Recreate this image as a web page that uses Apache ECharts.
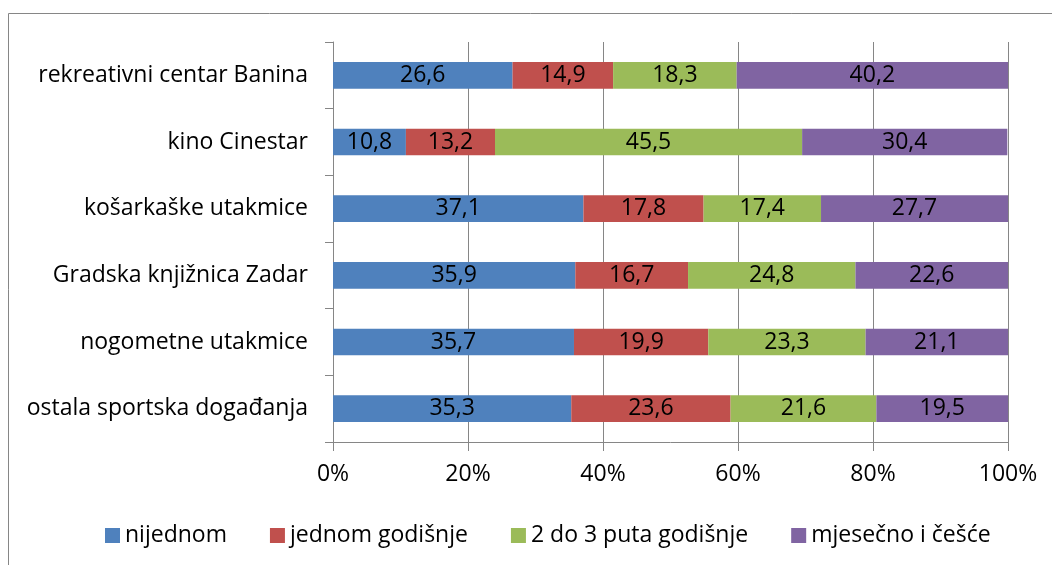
<!DOCTYPE html>
<html>
<head>
<meta charset="utf-8">
<script src="https://cdn.jsdelivr.net/npm/echarts@6/dist/echarts.min.js"></script>
<style>html,body{margin:0;padding:0;background:#fff;}#c{width:1052px;height:565px;}</style>
</head>
<body>
<div id="c"></div>
<script>
const categories = ['rekreativni centar Banina', 'kino Cinestar', 'košarkaške utakmice', 'Gradska knjižnica Zadar', 'nogometne utakmice', 'ostala sportska događanja'];
const seriesNames = ['nijednom', 'jednom godišnje', '2 do 3 puta godišnje', 'mjesečno i češće'];
const nijednom = [26.6, 10.8, 37.1, 35.9, 35.7, 35.3];
const jednomGodisnje = [14.9, 13.2, 17.8, 16.7, 19.9, 23.6];
const dvaDoTri = [18.3, 45.5, 17.4, 24.8, 23.3, 21.6];
const mjesecno = [40.2, 30.4, 27.7, 22.6, 21.1, 19.5];
const xTicks = [0, 20, 40, 60, 80, 100];

const colors = ['#4F81BD', '#C0504D', '#9BBB59', '#8064A2'];
const FONT = 'Open Sans';
const FS = 23;
const gridColor = '#868686';

const chart = echarts.init(document.getElementById('c'));
const dataSets = [nijednom, jednomGodisnje, dvaDoTri, mjesecno];
chart.setOption({
  animation: false,
  textStyle: { fontFamily: FONT },
  graphic: [{
    type: 'rect',
    shape: { x: 8.5, y: 13.5, width: 1100, height: 700 },
    style: { fill: 'none', stroke: gridColor, lineWidth: 1 },
    silent: true, z: -10
  }],
  grid: { left: 333, right: 44, top: 42, bottom: 123 },
  legend: {
    top: 519, left: 100,
    icon: 'rect', itemWidth: 15, itemHeight: 15, itemGap: 43,
    textStyle: { fontFamily: FONT, fontSize: FS, color: '#000' },
    data: seriesNames
  },
  xAxis: {
    type: 'value', min: 0, max: 100, interval: 20,
    axisLine: { show: true, lineStyle: { color: gridColor } },
    axisTick: { show: true, length: 9, lineStyle: { color: gridColor } },
    splitLine: { show: true, lineStyle: { color: gridColor } },
    axisLabel: { formatter: v => xTicks.includes(v) ? v + '%' : '', color: '#000', fontFamily: FONT, fontSize: FS, margin: 21 }
  },
  yAxis: {
    type: 'category', inverse: true, data: categories,
    axisLine: { show: true, lineStyle: { color: gridColor } },
    axisTick: { show: true, length: 8, lineStyle: { color: gridColor } },
    axisLabel: { color: '#000', fontFamily: FONT, fontSize: FS, margin: 25 }
  },
  series: seriesNames.map((n, i) => ({
    name: n, type: 'bar', stack: 'total', barWidth: '40%',
    itemStyle: { color: colors[i] },
    label: { show: true, position: 'inside', color: '#000', fontFamily: FONT, fontSize: FS,
      formatter: p => p.value.toFixed(1).replace('.', ',') },
    data: dataSets[i]
  }))
});
</script>
</body>
</html>
